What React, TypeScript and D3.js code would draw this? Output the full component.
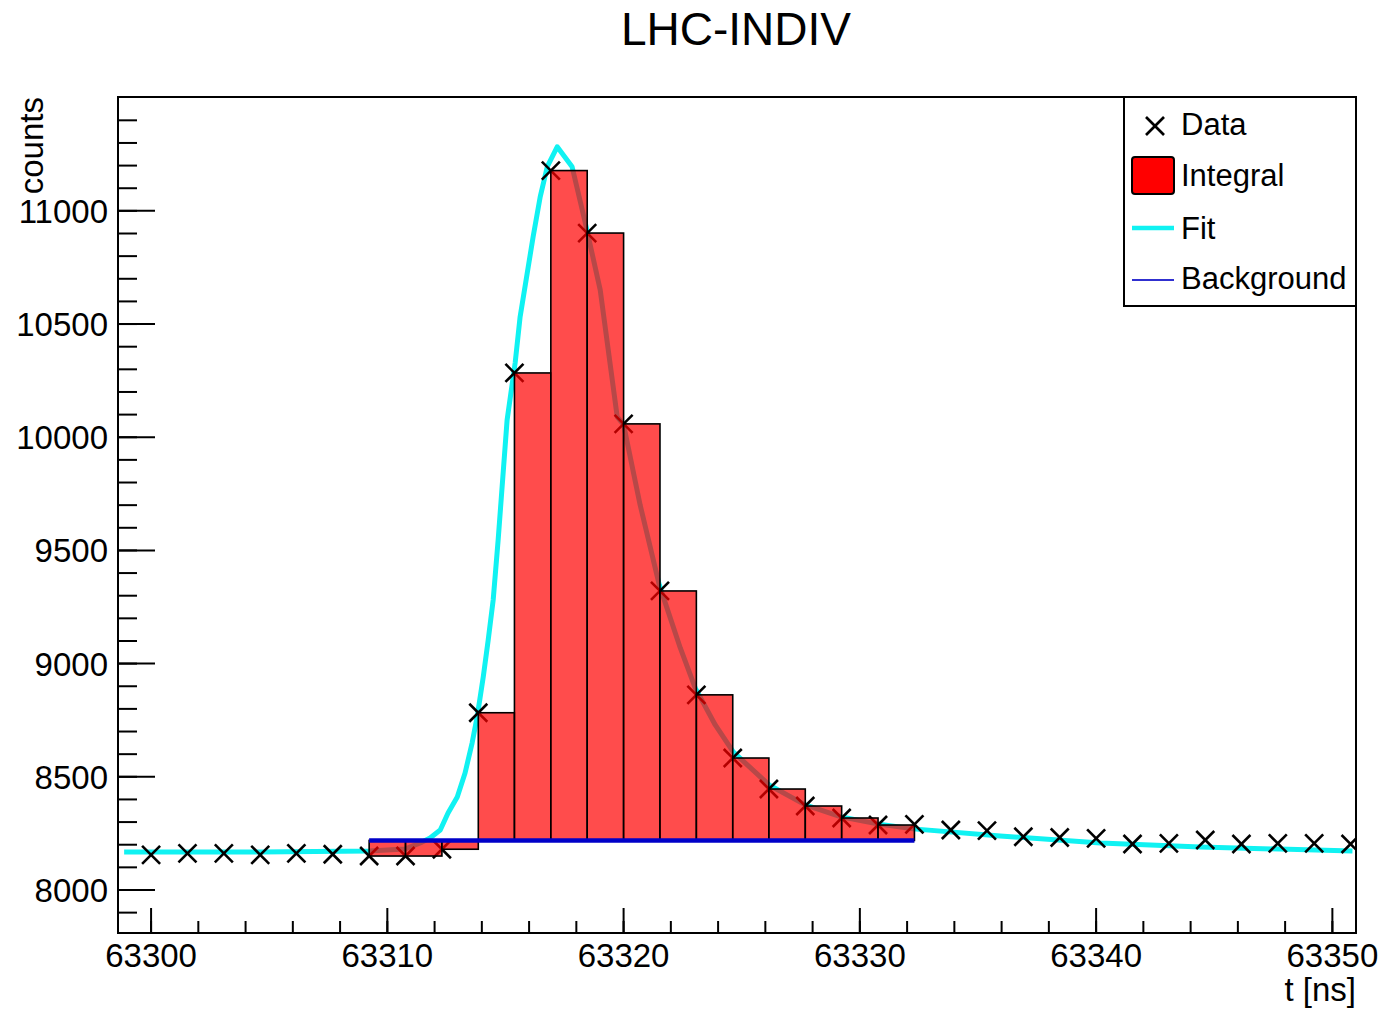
import React from "react";
import * as d3 from "d3";

const sampleTimes = [
  63300.0, 63301.54, 63303.08, 63304.62, 63306.15, 63307.69, 63309.23, 63310.77,
  63312.31, 63313.85, 63315.38, 63316.92, 63318.46, 63320.0, 63321.54, 63323.08,
  63324.62, 63326.15, 63327.69, 63329.23, 63330.77, 63332.31, 63333.85, 63335.38,
  63336.92, 63338.46, 63340.0, 63341.54, 63343.08, 63344.62, 63346.15, 63347.69,
  63349.23, 63350.77,
];
const sampleCounts = [
  8155, 8162, 8162, 8155, 8162, 8158, 8150, 8150,
  8180, 8783, 10284, 11178, 10902, 10059, 9321, 8862,
  8583, 8446, 8371, 8318, 8287, 8290, 8265, 8262,
  8235, 8232, 8228, 8203, 8206, 8221, 8203, 8206,
  8206, 8203,
];
// integral bins: from sample index 6 to 20 (inclusive)
const integralFirst = 6;
const integralLast = 20;
const backgroundLevel = 8219;

const fitT = [
  63298.86, 63304.61, 63309.23, 63310.75, 63311.39, 63311.81, 63312.24, 63312.57,
  63312.96, 63313.29, 63313.59, 63313.8, 63314.06, 63314.27, 63314.48, 63314.69,
  63315.07, 63315.41, 63315.62, 63316.17, 63316.47, 63316.77, 63317.19, 63317.82,
  63318.37, 63319.01, 63319.73, 63320.0, 63320.7, 63321.51, 63322.4, 63323.03,
  63323.88, 63324.64, 63326.16, 63327.69, 63329.21, 63330.74, 63332.26, 63335.94,
  63340.18, 63344.41, 63350.85,
];
const fitV = [
  8168, 8168, 8172, 8181, 8208, 8230, 8265, 8340,
  8411, 8517, 8650, 8764, 8941, 9105, 9281, 9546,
  10077, 10328, 10532, 10885, 11062, 11195, 11283, 11195,
  10951, 10651, 10090, 10055, 9701, 9348, 9069, 8893,
  8729, 8610, 8464, 8376, 8323, 8292, 8270, 8239,
  8208, 8190, 8172,
];

const xMajorTicks = [63300, 63310, 63320, 63330, 63340, 63350];
const yMajorTicks = [8000, 8500, 9000, 9500, 10000, 10500, 11000];
const legendLabels = ["Data", "Integral", "Fit", "Background"];

const W = 1380;
const H = 1009;
const L = 118, R = 1356, T = 97, B = 933;
const FONT = "'Liberation Sans', Arial, Helvetica, sans-serif";

export default function App() {
  const x = d3.scaleLinear().domain([63298.6, 63351.0]).range([L, R]);
  const y = d3.scaleLinear().domain([7810, 11503]).range([B, T]);

  const xMinor = d3.range(63300, 63351, 2);
  const yMinor = d3.range(7900, 11500, 100);

  const fitPts = fitT.map((t, i) => [t, fitV[i]] as [number, number]);
  const fitLine = d3
    .line<[number, number]>()
    .x((d) => x(d[0]))
    .y((d) => y(d[1]))
    .curve(d3.curveLinear)(fitPts);

  const bars = d3.range(integralFirst, integralLast + 1).map((i) => ({
    x0: sampleTimes[i],
    x1: sampleTimes[i + 1],
    v: sampleCounts[i],
  }));

  const ms = 9;
  return (
    <svg
      width={W}
      height={H}
      style={{ position: "absolute", left: 0, top: 0, background: "#fff" }}
      fontFamily={FONT}
    >
      <rect x={0} y={0} width={W} height={H} fill="#fff" />
      <text x={736} y={45} textAnchor="middle" fontSize={46} fill="#000">
        LHC-INDIV
      </text>

      <defs>
        <clipPath id="plotclip">
          <rect x={L} y={T} width={R - L} height={B - T} />
        </clipPath>
      </defs>

      <g clipPath="url(#plotclip)">
        <path d={fitLine || ""} fill="none" stroke="#10f2f2" strokeWidth={5} strokeLinejoin="round" />
        {sampleTimes.map((t, i) => {
          const cx = x(t), cy = y(sampleCounts[i]);
          return (
            <g key={i} stroke="#000" strokeWidth={2.6}>
              <line x1={cx - ms} y1={cy - ms} x2={cx + ms} y2={cy + ms} />
              <line x1={cx - ms} y1={cy + ms} x2={cx + ms} y2={cy - ms} />
            </g>
          );
        })}
        {bars.map((b, i) => {
          const top = Math.min(y(b.v), y(backgroundLevel));
          const bot = Math.max(y(b.v), y(backgroundLevel));
          return (
            <rect
              key={i}
              x={x(b.x0)}
              y={top}
              width={x(b.x1) - x(b.x0)}
              height={bot - top}
              fill="rgba(255,0,0,0.7)"
              stroke="#000"
              strokeWidth={1.6}
            />
          );
        })}
        <line
          x1={x(sampleTimes[integralFirst])}
          x2={x(sampleTimes[integralLast + 1])}
          y1={y(backgroundLevel)}
          y2={y(backgroundLevel)}
          stroke="#0000c8"
          strokeWidth={4.5}
        />
      </g>

      {/* frame */}
      <rect x={L} y={T} width={R - L} height={B - T} fill="none" stroke="#000" strokeWidth={2} />

      {/* x ticks */}
      {xMinor.map((t) => (
        <line key={"xm" + t} x1={x(t)} x2={x(t)} y1={B} y2={B - 12} stroke="#000" strokeWidth={2} />
      ))}
      {xMajorTicks.map((t) => (
        <g key={"xM" + t}>
          <line x1={x(t)} x2={x(t)} y1={B} y2={B - 25} stroke="#000" strokeWidth={2} />
          <text x={x(t)} y={967} textAnchor="middle" fontSize={33} fill="#000">
            {t}
          </text>
        </g>
      ))}
      {/* y ticks */}
      {yMinor.map((v) => (
        <line key={"ym" + v} x1={L} x2={L + 19} y1={y(v)} y2={y(v)} stroke="#000" strokeWidth={2} />
      ))}
      {yMajorTicks.map((v) => (
        <g key={"yM" + v}>
          <line x1={L} x2={L + 37} y1={y(v)} y2={y(v)} stroke="#000" strokeWidth={2} />
          <text x={108} y={y(v) + 12} textAnchor="end" fontSize={33} fill="#000">
            {v}
          </text>
        </g>
      ))}

      <text
        transform={`translate(43,97) rotate(-90)`}
        textAnchor="end"
        fontSize={33}
        fill="#000"
      >
        counts
      </text>
      <text x={1356} y={1001} textAnchor="end" fontSize={33} fill="#000">
        t [ns]
      </text>

      {/* legend */}
      <g>
        <rect x={1124} y={97} width={R - 1124} height={209} fill="#fff" stroke="#000" strokeWidth={2} />
        <g stroke="#000" strokeWidth={2.6}>
          <line x1={1146} y1={117} x2={1164} y2={135} />
          <line x1={1146} y1={135} x2={1164} y2={117} />
        </g>
        <text x={1181} y={135} fontSize={31} fill="#000">{legendLabels[0]}</text>
        <rect x={1132} y={157} width={42} height={37} rx={3} fill="#ff0000" stroke="#000" strokeWidth={2} />
        <text x={1181} y={186} fontSize={31} fill="#000">{legendLabels[1]}</text>
        <line x1={1132} x2={1174} y1={228} y2={228} stroke="#10f2f2" strokeWidth={4.5} />
        <text x={1181} y={239} fontSize={31} fill="#000">{legendLabels[2]}</text>
        <line x1={1132} x2={1174} y1={280} y2={280} stroke="#3030d0" strokeWidth={2} />
        <text x={1181} y={289} fontSize={31} fill="#000">{legendLabels[3]}</text>
      </g>
    </svg>
  );
}
